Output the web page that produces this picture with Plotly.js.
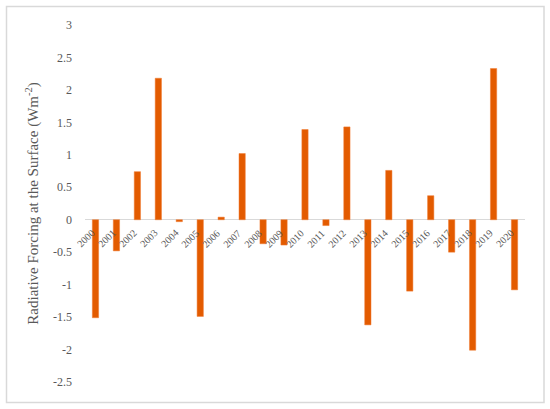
<!DOCTYPE html>
<html>
<head>
<meta charset="utf-8">
<script src="https://cdn.plot.ly/plotly-3.0.1.min.js"></script>
<style>
html,body{margin:0;padding:0;background:#fff;}
#chart{width:550px;height:409px;}
</style>
</head>
<body>
<div id="chart"></div>
<script>
var years = ["2000","2001","2002","2003","2004","2005","2006","2007","2008","2009","2010",
             "2011","2012","2013","2014","2015","2016","2017","2018","2019","2020"];
var forcing = [-1.51,-0.48,0.74,2.18,-0.03,-1.49,0.04,1.02,-0.37,-0.39,1.39,
               -0.09,1.43,-1.62,0.76,-1.10,0.37,-0.50,-2.01,2.33,-1.08];
var yTickVals = [3,2.5,2,1.5,1,0.5,0,-0.5,-1,-1.5,-2,-2.5];
var yTickText = ["3","2.5","2","1.5","1","0.5","0","-0.5","-1","-1.5","-2","-2.5"];

var yMin = -2.5, yMax = 3;
var gray = '#595959';
var fontFam = '"Liberation Serif", "DejaVu Serif", serif';

var trace = {
  type: 'bar',
  x: years,
  y: forcing,
  width: 0.3,
  marker: {color: '#e35b00', line: {color: '#f07a30', width: 0.5}},
  hoverinfo: 'x+y'
};

var L = 85, R = 25, T = 25, B = 27;
var W = 550, H = 409;
var pw = W - L - R, ph = H - T - B;

// category labels placed along the zero line (category index on the x axis), rotated like the original axis labels
var yearLabels = years.map(function (yr, i) {
  return {
    x: i, y: 0, xref: 'x', yref: 'y',
    text: yr, showarrow: false, textangle: -45,
    xanchor: 'right', yanchor: 'top',
    xshift: 4, yshift: -5,
    font: {size: 10, color: gray, family: fontFam}
  };
});

var layout = {
  width: W, height: H,
  margin: {l: L, r: R, t: T, b: B, pad: 0},
  paper_bgcolor: '#fff', plot_bgcolor: '#fff',
  showlegend: false,
  font: {family: fontFam, color: gray},
  xaxis: {
    type: 'category',
    categoryorder: 'array',
    categoryarray: years,
    range: [-0.5, years.length - 0.5],
    showgrid: false,
    showline: false,
    zeroline: false,
    ticks: '',
    showticklabels: false,
    fixedrange: true
  },
  yaxis: {
    range: [yMin, yMax],
    tickvals: yTickVals,
    ticktext: yTickText,
    showgrid: false,
    showline: false,
    zeroline: true,
    zerolinecolor: '#d9d9d9',
    zerolinewidth: 1,
    ticks: '',
    ticklabelstandoff: 12,
    tickfont: {size: 12, color: gray, family: fontFam},
    title: {text: 'Radiative Forcing at the Surface (Wm<sup>-2</sup>)', font: {size: 15, color: gray, family: fontFam}, standoff: 10},
    fixedrange: true
  },
  annotations: yearLabels,
  shapes: [{
    type: 'rect', xref: 'paper', yref: 'paper',
    x0: (6.5 - L) / pw, x1: (544 - L) / pw,
    y0: (H - B - 402.5) / ph, y1: (H - B - 6.5) / ph,
    line: {color: '#d9d9d9', width: 1.5},
    fillcolor: 'rgba(0,0,0,0)', layer: 'below'
  }]
};

Plotly.newPlot('chart', [trace], layout, {displayModeBar: false, staticPlot: true});
</script>
</body>
</html>
